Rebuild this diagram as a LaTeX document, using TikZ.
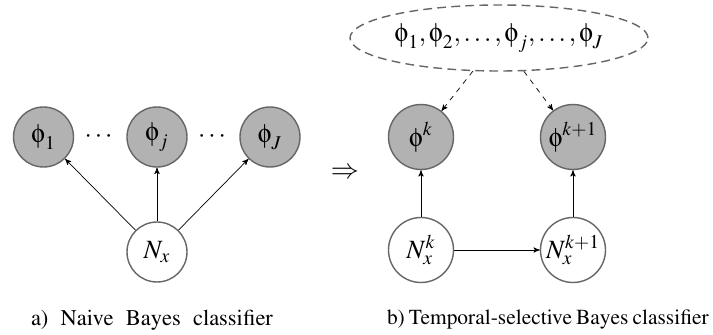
\documentclass[tikz,border=0pt]{standalone}
\usepackage[T1]{fontenc}
\usepackage{mathptmx}
\usepackage{amsmath}
\usepackage{tikz}
\usetikzlibrary{positioning, shapes, calc, arrows}

\newcommand{\uphi}{\text{\usefont{U}{psy}{m}{n}\symbol{102}}}

\begin{document}
\begin{tikzpicture}

		\tikzstyle{obsc}=[circle, draw=black!60, line width=0.8pt, minimum size=1.2cm, inner sep=0pt, fill=black!30, font=\fontsize{15}{17}\selectfont]
		\tikzstyle{latc}=[obsc, fill=white]
		\tikzstyle{link}=[->, >=stealth', thin]
		\tikzstyle{capt}=[inner sep=0pt, font=\fontsize{12.2}{14}\selectfont]

		\useasboundingbox (0,0) rectangle (14.26,-6.7);

		% a) naive Bayes
		\node (phi1) at (0.87,-2.74) [obsc] {$\uphi_1$};
		\node (phij) at (3.14,-2.74) [obsc] {$\uphi_j$};
		\node (phiJ) at (5.40,-2.74) [obsc] {$\uphi_J$};
		\node (nx) at (3.14,-5.04) [latc] {$N_x$};

		\node (dots1) at (2.00,-2.74) [font=\fontsize{15}{17}\selectfont] {$\cdots$};
		\node (dots2) at (4.27,-2.74) [font=\fontsize{15}{17}\selectfont] {$\cdots$};

		\draw [link] (nx) -- (phi1);
		\draw [link] (nx) -- (phij);
		\draw [link] (nx) -- (phiJ);

		\node (imp) at (6.9,-3.46) [font=\fontsize{16}{18}\selectfont] {$\Rightarrow$};

		% b) temporal-selective
		\node (set) at (9.98,-0.76) [ellipse, draw=black!60, dash pattern=on 5pt off 3pt, line width=0.8pt, minimum width=5.96cm, minimum height=1.32cm, inner sep=0pt, font=\fontsize{15}{17}\selectfont] {$\uphi_1,\uphi_2,\ldots,\uphi_j,\ldots,\uphi_J$};

		\node (phik) at (8.42,-2.74) [obsc, minimum size=1.3cm] {$\uphi^k$};
		\node (phik1) at (11.46,-2.74) [obsc, minimum size=1.3cm] {$\uphi^{k+1}$};
		\node (nk) at (8.42,-5.0) [latc, minimum size=1.3cm] {$N_x^k$};
		\node (nk1) at (11.46,-5.0) [latc, minimum size=1.3cm] {$N_x^{k+1}$};

		\draw [link, dashed] (set) -- (phik);
		\draw [link, dashed] (set) -- (phik1);
		\draw [link] (nk) -- (phik);
		\draw [link] (nk1) -- (phik1);
		\draw [link] (nk) -- (nk1);

		\node (capa) at (3.04,-6.4) [capt, font=\fontsize{12.8}{14}\selectfont] {\makebox[4.84cm][s]{a) Naive Bayes classifier}};
		\node (capb) at (10.93,-6.4) [capt] {\makebox[6.38cm][s]{b) Temporal-selective Bayes classifier}};

\end{tikzpicture}
\end{document}
